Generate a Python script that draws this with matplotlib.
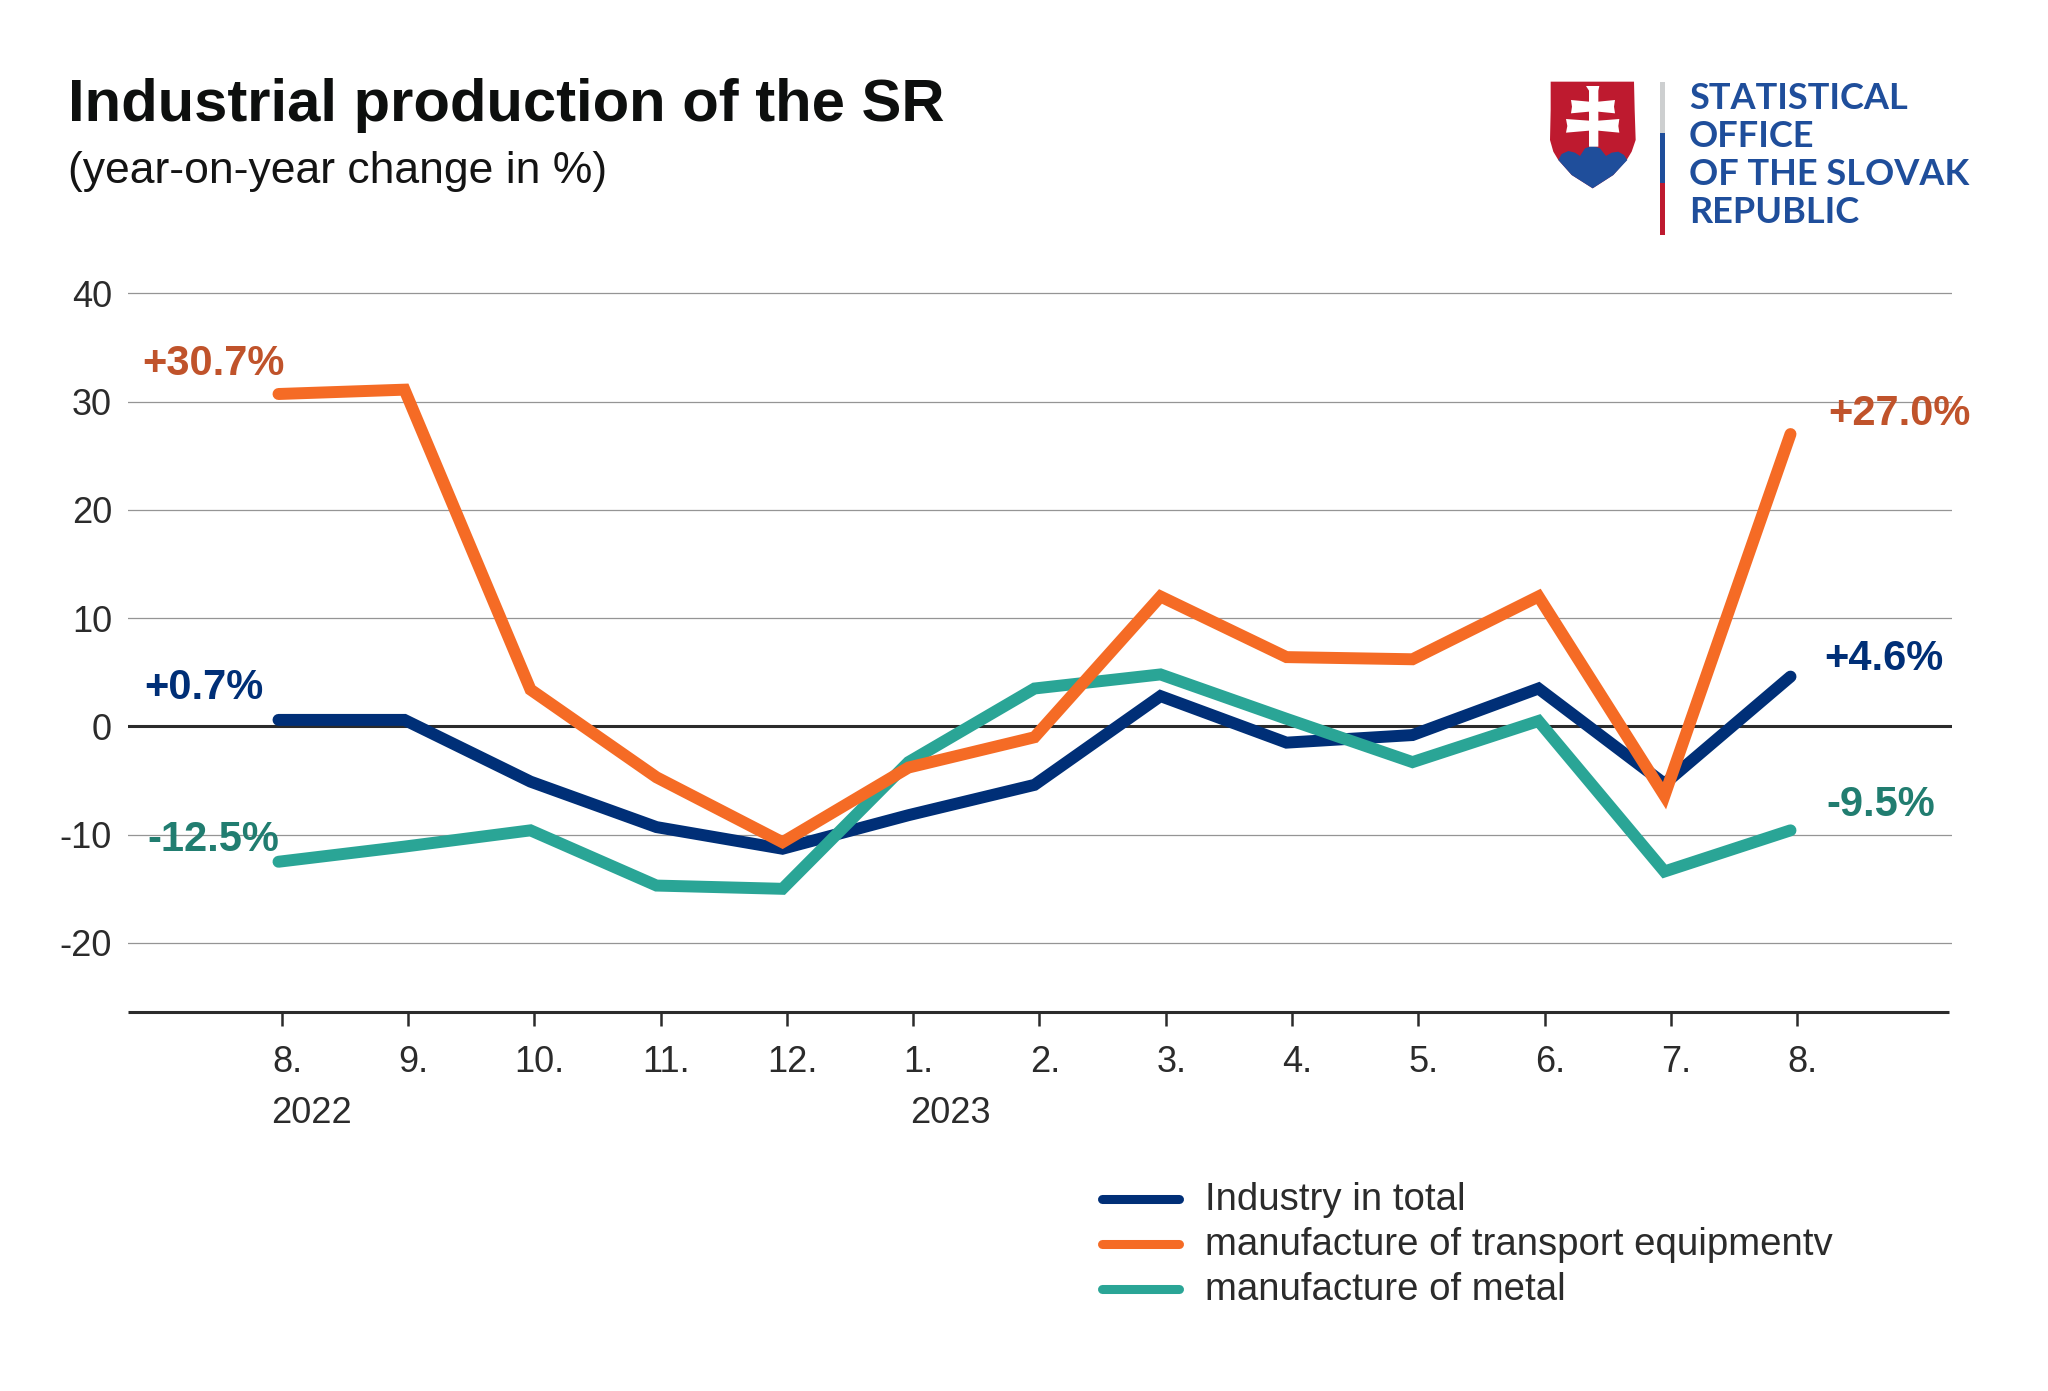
import matplotlib
matplotlib.use("Agg")
import matplotlib.pyplot as plt
from matplotlib.patches import Polygon, Rectangle

plt.rcParams['font.family'] = ['Liberation Sans', 'DejaVu Sans']

W, H = 2048, 1391
months = ["8.", "9.", "10.", "11.", "12.", "1.", "2.", "3.", "4.", "5.", "6.", "7.", "8."]
total = [0.6, 0.6, -5.1, -9.3, -11.3, -8.2, -5.4, 2.8, -1.5, -0.8, 3.5, -5.3, 4.6]
transport = [30.7, 31.1, 3.4, -4.7, -10.7, -3.8, -1.0, 12.0, 6.4, 6.2, 12.0, -6.4, 27.0]
metal = [-12.5, -11.1, -9.6, -14.7, -15.0, -3.3, 3.5, 4.8, 0.7, -3.3, 0.5, -13.4, -9.6]
yticks = [-20, -10, 0, 10, 20, 30, 40]
series_names = ["Industry in total", "manufacture of transport equipmentv", "manufacture of metal"]
NAVY, ORANGE, TEAL = "#002F77", "#F56B25", "#2AA596"
DARK = "#2b2b2b"

fig = plt.figure(figsize=(W/100, H/100), dpi=100)

def px(x, y):
    return x / W, 1 - y / H

# axes box in pixels
L, R, B = 128, 1951.7, 1012
y40, y0 = 293.3, 726.4
unit = (y0 - y40) / 40
T = y40 - unit
ax = fig.add_axes([L/W, 1-B/H, (R-L)/W, (B-T)/H])
ax.set_ylim(-(B - y0) / unit, 41)
x0, dx = 278.5, 126.0
xlim = ((L - x0) / dx, (R - x0) / dx)
ax.set_xlim(xlim)
xs = list(range(len(months)))
tick_xs = [i * 1.0024 + 0.025 for i in xs]

for s in ("top", "left", "right"):
    ax.spines[s].set_visible(False)
ax.spines["bottom"].set_linewidth(2.2)
ax.spines["bottom"].set_color(DARK)
ax.spines["bottom"].set_capstyle("butt")
ax.spines["bottom"].set_bounds(xlim[0], xlim[1] - 2.5 / dx)

ax.set_yticks(yticks)
ax.set_yticklabels([str(v) for v in yticks])
ax.tick_params(axis="y", length=0, labelsize=26, labelcolor=DARK, pad=11.5)
ax.set_xticks(tick_xs)
ax.set_xticklabels([])
ax.tick_params(axis="x", length=10, width=1.8, color=DARK)
ax.grid(axis="y", color="#959595", linewidth=0.9)
ax.set_axisbelow(True)
ax.axhline(0, color=DARK, linewidth=2.2, zorder=1.5)

for tx, m in zip(tick_xs, months):
    ax.annotate(m, (tx, 0), xycoords=("data", "axes fraction"), xytext=(4, -36.5),
                textcoords="offset points", ha="center", va="center", fontsize=26, color=DARK)
ax.annotate("2022", (tick_xs[0], 0), xycoords=("data", "axes fraction"), xytext=(-7.7, -73),
            textcoords="offset points", ha="left", va="center", fontsize=26, color=DARK)
ax.annotate("2023", (tick_xs[5], 0), xycoords=("data", "axes fraction"), xytext=(-2.5, -73),
            textcoords="offset points", ha="left", va="center", fontsize=26, color=DARK)

for vals, col, name in ((total, NAVY, series_names[0]), (metal, TEAL, series_names[2]), (transport, ORANGE, series_names[1])):
    ax.plot(xs, vals, color=col, lw=8.6, solid_capstyle="round", solid_joinstyle="miter", label=name, zorder=3)

LAB = [("+30.7%", 142, 364, "#C0532B"), ("+0.7%", 144, 688, NAVY), ("-12.5%", 147, 840, "#217D70"),
       ("+27.0%", 1828, 414, "#C0532B"), ("+4.6%", 1824, 659, NAVY), ("-9.5%", 1826, 805, "#217D70")]
for t, x, y, c in LAB:
    fig.text(*px(x, y), t, fontsize=30, fontweight="bold", color=c, ha="left", va="center")

# title
fig.text(*px(68, 121), "Industrial production of the SR", fontsize=43, fontweight="bold", color="#0d0f0e", ha="left", va="baseline")
fig.text(*px(68, 183), "(year-on-year change in %)", fontsize=32, color="#141414", ha="left", va="baseline")

# legend
for name, col, yy, by in ((series_names[0], NAVY, 1199, 1210), (series_names[1], ORANGE, 1244, 1255), (series_names[2], TEAL, 1288.7, 1300)):
    fig.add_artist(plt.Line2D([1101.5/W, 1178.5/W], [1-yy/H, 1-yy/H], color=col, lw=6.5, solid_capstyle="round"))
    fig.text(*px(1205, by), name, fontsize=27.6, color=DARK, ha="left", va="baseline")

# logo
RED, BLUE = "#BE1A2F", "#1F4E9B"
def Z(x, y):
    return px(1500 + x / 3, 50 + y / 3)
def P(pts, c):
    fig.add_artist(Polygon([Z(x, y) for x, y in pts], closed=True, fc=c, ec="none", transform=fig.transFigure))
P([(152, 95), (402, 95), (404, 180), (407, 270), (395, 305), (380, 330), (340, 375), (278, 415), (215, 375), (175, 330), (160, 305), (150, 270), (152, 180)], RED)
P([(175, 330), (185, 312), (205, 303), (225, 308), (240, 318), (255, 295), (278, 287), (300, 295), (318, 318), (335, 308), (355, 305), (372, 315), (382, 330), (340, 375), (278, 415), (215, 375)], BLUE)
P([(258, 108), (298, 108), (295, 122), (295, 155), (345, 150), (342, 170), (345, 190), (295, 185), (295, 212), (358, 207), (355, 228), (358, 248), (295, 242), (295, 290), (267, 290), (267, 242), (198, 248), (202, 228), (198, 207), (267, 212), (267, 185), (213, 190), (216, 170), (213, 150), (267, 155), (267, 122)], "white")
for y0_, y1_, c in ((82, 133, "#CDCFD0"), (133, 183, BLUE), (183, 235, RED)):
    fig.add_artist(Rectangle(px(1660, y1_), 5/W, (y1_-y0_)/H, fc=c, ec="none", transform=fig.transFigure))
for yy, t in ((109, "STATISTICAL"), (147, "OFFICE"), (185, "OF THE SLOVAK"), (223, "REPUBLIC")):
    fig.text(*px(1689, yy), t, fontsize=26, fontweight="bold", family=["Lato", "DejaVu Sans"], color=BLUE, ha="left", va="baseline")

fig.savefig("out.png", dpi=100, facecolor="white")
